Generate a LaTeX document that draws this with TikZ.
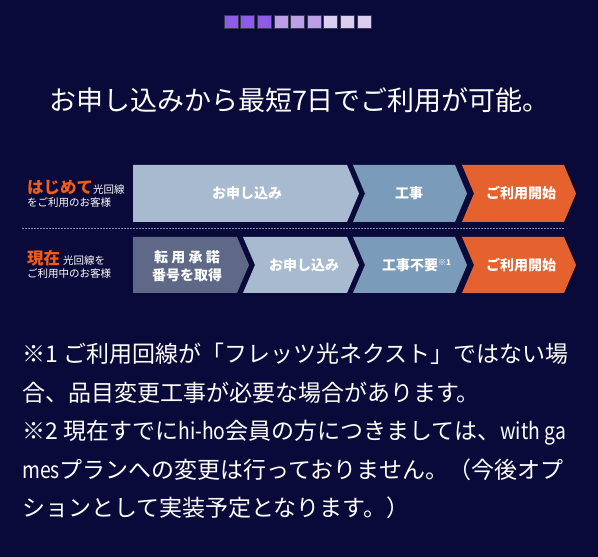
\documentclass[tikz,border=0pt]{standalone}
\usepackage{fontspec}
\setmainfont{Noto Sans CJK JP}
\definecolor{bg}{HTML}{0A0A3A}
\definecolor{lightbox}{HTML}{A7BAD0}
\definecolor{midbox}{HTML}{7A9BBA}
\definecolor{orbox}{HTML}{E5622E}
\definecolor{darkbox}{HTML}{5F6887}
\definecolor{ortxt}{HTML}{F25C19}
\definecolor{sqa}{HTML}{8E5CE6}
\definecolor{sqb}{HTML}{BBA0E8}
\definecolor{sqc}{HTML}{DBCFF1}
\definecolor{dotc}{HTML}{8A8AA8}
\newcommand\narrowlat[1]{\scalebox{0.84}[1]{#1}}
\begin{document}
\begin{tikzpicture}[x=1pt,y=1pt,
  sq/.style={draw=bg!60!gray,line width=0.4pt},
  boxlabel/.style={text=white,font=\bfseries\fontsize{14}{16}\selectfont,inner sep=0pt},
  bodytext/.style={text=white,font=\fontsize{23}{26}\selectfont,anchor=base west,inner sep=0pt},
  smallw/.style={text=white,font=\fontsize{10.5}{12}\selectfont}]
\fill[bg] (0,0) rectangle (598,557);
\useasboundingbox (0,0) rectangle (598,557);
% progress squares
\foreach \i/\c in {0/sqa,1/sqa,2/sqa,3/sqb,4/sqb,5/sqb,6/sqc,7/sqc,8/sqc}{
  \filldraw[fill=\c,sq] ({224+16.6*\i},529) rectangle ++(14,13);
}
% title
\node[text=white,font=\fontsize{27}{30}\selectfont,anchor=base,inner sep=0pt] (title) at (299.5,446.7) {お申し込みから最短7日でご利用が可能。};
% row 1
\fill[lightbox] (133,392)--(347,392)--(359,363.5)--(347,335)--(133,335)--cycle;
\fill[midbox] (353,392)--(455,392)--(467,363.5)--(455,335)--(353,335)--(365,363.5)--cycle;
\fill[orbox] (462,392)--(564,392)--(576,363.5)--(564,335)--(462,335)--(474,363.5)--cycle;
\node[boxlabel] (r1a) at (247,363.5) {お申し込み};
\node[boxlabel] (r1b) at (409,363.5) {工事};
\node[boxlabel] (r1c) at (521,363.5) {ご利用開始};
% separator
\draw[dotc,line width=0.8pt,dash pattern=on 1.5pt off 1.5pt] (22,329) -- (565,329);
% row 2
\fill[darkbox] (133,320)--(237,320)--(249,292)--(237,264)--(133,264)--cycle;
\fill[lightbox] (243,320)--(347,320)--(359,292)--(347,264)--(243,264)--(255,292)--cycle;
\fill[midbox] (353,320)--(455,320)--(467,292)--(455,264)--(353,264)--(365,292)--cycle;
\fill[orbox] (462,320)--(564,320)--(576,292)--(564,264)--(462,264)--(474,292)--cycle;
\node[boxlabel] (r2a1) at (187,300) {\makebox[66pt][s]{転\hfill 用\hfill 承\hfill 諾}};
\node[boxlabel] (r2a2) at (187,282) {番号を取得};
\node[boxlabel] (r2b) at (304,292) {お申し込み};
\node[boxlabel] (r2c) at (416.5,292) {工事不要\raisebox{5pt}{\fontsize{8}{9}\selectfont ※1}};
\node[boxlabel] (r2d) at (521,292) {ご利用開始};
% left labels
\node[anchor=base west,inner sep=0pt] (l1) at (27,363.7) {\textcolor{ortxt}{\bfseries\fontsize{16.5}{18}\selectfont はじめて}\textcolor{white}{\fontsize{10.5}{12}\selectfont 光回線}};
\node[smallw,anchor=base west,inner sep=0pt] (l1b) at (27,350) {をご利用のお客様};
\node[anchor=base west,inner sep=0pt] (l2) at (27,292.7) {\textcolor{ortxt}{\bfseries\fontsize{16.5}{18}\selectfont 現在}\hspace{3pt}\textcolor{white}{\fontsize{10.5}{12}\selectfont 光回線を}};
\node[smallw,anchor=base west,inner sep=0pt] (l2b) at (27,279) {ご利用中のお客様};
% notes
\node[bodytext] (n1) at (22,194.3) {※1 ご利用回線が「フレッツ光ネクスト」ではない場};
\node[bodytext] (n2) at (22,155.8) {合、品目変更工事が必要な場合があります。};
\node[bodytext] (n3) at (22,117.3) {※2 現在すでに\narrowlat{hi-ho}会員の方につきましては、\narrowlat{with ga}};
\node[bodytext] (n4) at (22,78.8) {\narrowlat{mes}プランへの変更は行っておりません。（今後オプ};
\node[bodytext] (n5) at (22,40.3) {ションとして実装予定となります。）};
\end{tikzpicture}
\end{document}
